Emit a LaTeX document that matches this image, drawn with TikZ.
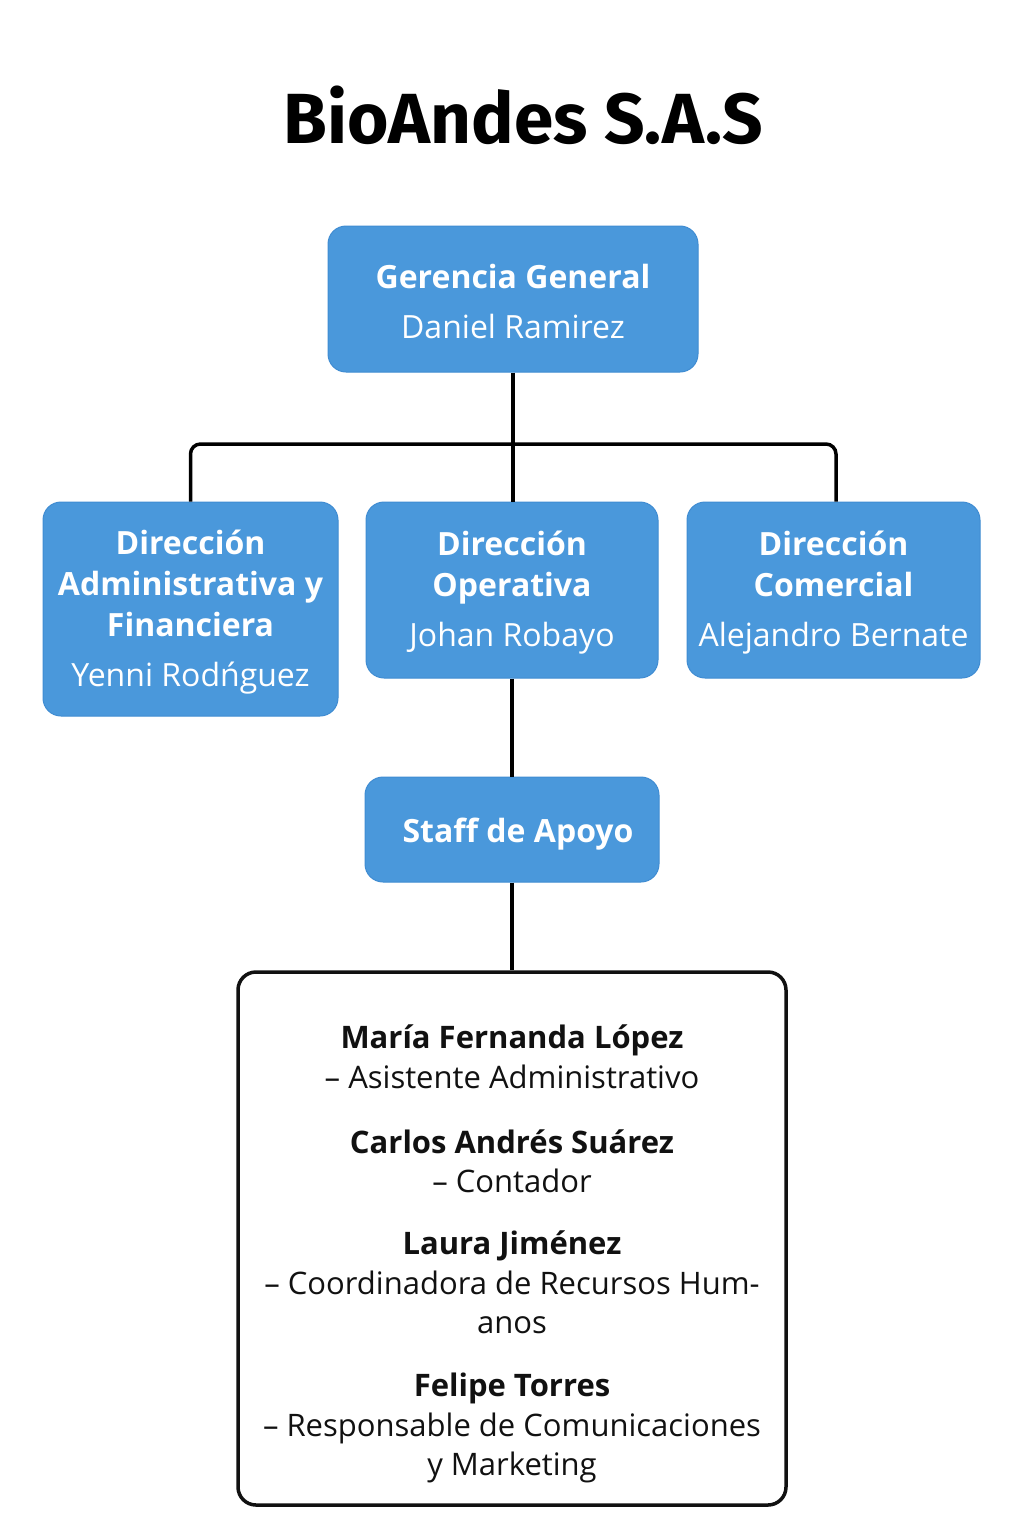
\documentclass[tikz,border=0pt]{standalone}
\usepackage{fontspec}
\setmainfont{Open Sans}
\newfontfamily\titlefont{Fira Sans}
\definecolor{boxblue}{HTML}{4A98DB}
\definecolor{boxedge}{HTML}{3F8CD2}
\definecolor{ink}{HTML}{111111}
\tikzset{
  bluebox/.style={rectangle, rounded corners=18pt, fill=boxblue, draw=boxedge, line width=1pt, inner sep=0pt},
  boxtext/.style={text=white, align=center, inner sep=0pt, font=\fontsize{32}{41}\selectfont},
  listbox/.style={rectangle, rounded corners=18pt, draw=ink, line width=3.5pt, fill=white, inner sep=0pt},
  listtext/.style={align=center, inner sep=0pt, text=ink, font=\fontsize{31}{39.5}\selectfont},
  link/.style={draw=black, line width=3.5pt, rounded corners=10pt},
}
\begin{document}
\begin{tikzpicture}[x=1pt,y=-1pt]
\useasboundingbox[fill=white] (0,0) rectangle (1024,1536);
\node[font=\fontsize{71}{80}\selectfont\titlefont\bfseries, text=black, inner sep=0pt] (title) at (523,115) {BioAndes S.A.S};

\node[bluebox, minimum width=370pt, minimum height=146pt] (gg) at (513,299) {};
\node[boxtext] (ggtext) at ([yshift=-2pt]gg.center)
  {\textbf{Gerencia General}\\[9pt]Daniel Ramirez};
\node[bluebox, minimum width=295pt, minimum height=214pt] (daf) at (190.5,609) {};
\node[boxtext] (daftext) at ([yshift=-3pt]daf.center)
  {\textbf{Dirección}\\\textbf{Administrativa y}\\\textbf{Financiera}\\[9pt]Yenni Rodńguez};
\node[bluebox, minimum width=292pt, minimum height=176pt] (dop) at (512,590) {};
\node[boxtext] (doptext) at ([yshift=-2.5pt]dop.center)
  {\textbf{Dirección}\\\textbf{Operativa}\\[9pt]Johan Robayo};
\node[bluebox, minimum width=293pt, minimum height=176pt] (dcom) at (833.5,590) {};
\node[boxtext] (dcomtext) at ([yshift=-3pt]dcom.center)
  {\textbf{Dirección}\\\textbf{Comercial}\\[9pt]Alejandro Bernate};
\node[bluebox, minimum width=294pt, minimum height=105pt] (staff) at (512,829.5) {};
\node[boxtext] (stafftext) at ([xshift=6pt,yshift=-5pt]staff.center) {\textbf{Staff de Apoyo}};

\node[listbox, minimum width=548pt, minimum height=533pt] (lista) at (512,1238.5) {};
\node[listtext] (listatxt) at (512,1254)
  {\textbf{María Fernanda López}\\
   – Asistente Administrativo\\[25.5pt]
   \textbf{Carlos Andrés Suárez}\\
   – Contador\\[22.5pt]
   \textbf{Laura Jiménez}\\
   – Coordinadora de Recursos Hum-\\
   anos\\[23.5pt]
   \textbf{Felipe Torres}\\
   – Responsable de Comunicaciones\\
   y Marketing};

\coordinate (hub) at (513,444);
\draw[link] (gg.south) -- (hub);
\draw[link] (hub) -- (hub |- dop.north);
\draw[link] (hub) -| (daf.north);
\draw[link] (hub) -| ([xshift=2.5pt]dcom.north);
\draw[link] (dop.south) -- (staff.north);
\draw[link] (staff.south) -- (lista.north);
\end{tikzpicture}
\end{document}
